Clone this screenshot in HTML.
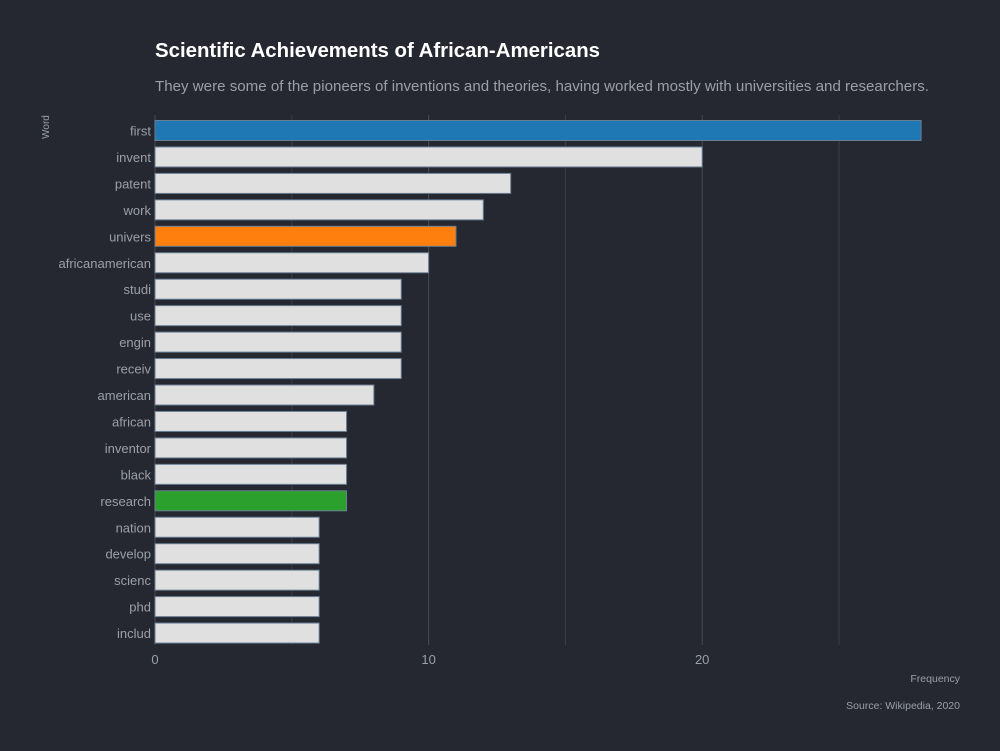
<!DOCTYPE html>
<html><head><meta charset="utf-8">
<style>
body{margin:0;background:#252830;}
svg{display:block;font-family:"Liberation Sans",sans-serif;}
</style></head>
<body>
<svg id="chart" width="1000" height="751">
<rect width="1000" height="751" fill="#252830"/>
<text x="155" y="57" fill="#ffffff" font-size="20" font-weight="bold" textLength="445" lengthAdjust="spacingAndGlyphs">Scientific Achievements of African-Americans</text>
<text x="155" y="91" fill="#9aa0a8" font-size="15" textLength="774" lengthAdjust="spacingAndGlyphs">They were some of the pioneers of inventions and theories, having worked mostly with universities and researchers.</text>
<text transform="translate(49,127) rotate(-90)" text-anchor="middle" fill="#9aa0a8" font-size="10">Word</text>
<text x="960" y="682" text-anchor="end" fill="#9aa0a8" font-size="10.5">Frequency</text>
<text x="960" y="709" text-anchor="end" fill="#9aa0a8" font-size="10.5">Source: Wikipedia, 2020</text>
<g id="grid"></g>
<g id="bars"></g>
</svg>
<script>
const categories=["first","invent","patent","work","univers","africanamerican","studi","use","engin","receiv","american","african","inventor","black","research","nation","develop","scienc","phd","includ"];
const values=[28,20,13,12,11,10,9,9,9,9,8,7,7,7,7,6,6,6,6,6];
const colors=["#1f77b4","#e0e0e0","#e0e0e0","#e0e0e0","#ff7f0e","#e0e0e0","#e0e0e0","#e0e0e0","#e0e0e0","#e0e0e0","#e0e0e0","#e0e0e0","#e0e0e0","#e0e0e0","#2ca02c","#e0e0e0","#e0e0e0","#e0e0e0","#e0e0e0","#e0e0e0"];
const ticks=[0,10,20];
const minorTicks=[5,15,25];
const NS="http://www.w3.org/2000/svg";
const x=v=>155+v*27.36;
const y=i=>130.5+i*26.45;
const grid=document.getElementById('grid'),bars=document.getElementById('bars');
function mk(tag,attrs,parent){const e=document.createElementNS(NS,tag);for(const k in attrs)e.setAttribute(k,attrs[k]);parent.appendChild(e);return e;}
minorTicks.forEach(t=>{const l=mk('line',{x1:x(t),x2:x(t),y1:115,y2:645,stroke:'#3a3e47','stroke-width':1},grid);

});
ticks.forEach(t=>{const l=mk('line',{x1:x(t),x2:x(t),y1:115,y2:645,stroke:'#454a54','stroke-width':1},grid);


const tx=mk('text',{x:x(t),y:664,'text-anchor':'middle',fill:'#9aa0a8','font-size':13},grid);tx.textContent=t;

});
categories.forEach((c,i)=>{
const r=mk('rect',{x:x(0),y:y(i)-10,width:x(values[i])-x(0),height:20,fill:colors[i],stroke:'#6a7f94','stroke-width':1},bars);


const t=mk('text',{x:151,y:y(i)+5,'text-anchor':'end',fill:'#9aa0a8','font-size':13},bars);t.textContent=c;


});
</script>
</body></html>
